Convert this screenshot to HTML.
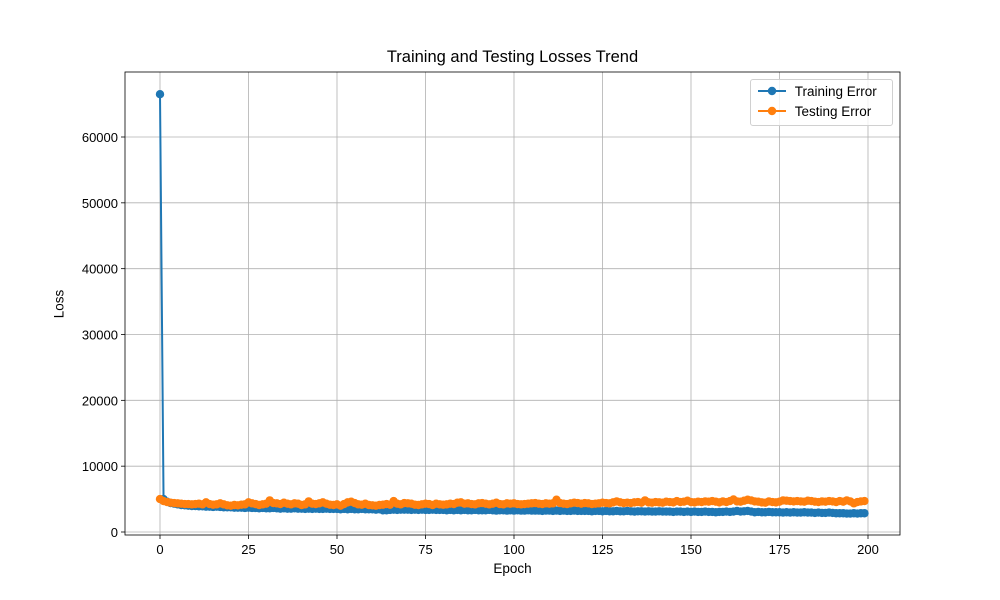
<!DOCTYPE html>
<html><head><meta charset="utf-8"><style>
body{margin:0;background:#fff;}
svg{display:block;font-family:"Liberation Sans","DejaVu Sans",sans-serif;}
</style></head><body>
<svg id="chart" width="1000" height="600"></svg>
<script>
const epochs = Array.from({length:200},(_,i)=>i);
const trainingError = [66500,5000,4600,4400,4300,4200,4100,4050,4000,3950,
3950,3900,3900,3850,3850,3800,3850,3800,3750,3750,
3750,3700,3700,3700,3650,3700,3650,3650,3600,3650,
3600,3600,3650,3600,3550,3600,3550,3550,3600,3550,
3550,3500,3550,3500,3550,3500,3500,3550,3500,3500,
3500,3450,3500,3450,3500,3450,3450,3500,3450,3450,
3450,3400,3450,3300,3300,3350,3400,3350,3400,3400,
3400,3350,3400,3350,3400,3350,3350,3400,3350,3350,
3350,3300,3350,3300,3350,3300,3350,3300,3300,3350,
3300,3300,3300,3350,3300,3250,3300,3300,3250,3300,
3250,3300,3250,3250,3300,3250,3250,3250,3200,3250,
3250,3200,3250,3200,3250,3200,3200,3250,3200,3200,
3200,3200,3150,3200,3200,3150,3200,3150,3150,3200,
3150,3150,3200,3150,3100,3150,3150,3100,3150,3100,
3100,3150,3100,3100,3100,3050,3100,3100,3050,3100,
3050,3100,3050,3050,3100,3050,3050,3000,3050,3050,
3100,3050,3100,3200,3100,3150,3200,3100,3000,3050,
3000,3000,3050,3000,3000,3000,2950,3000,2950,3000,
2950,2950,3000,2950,2950,2900,2950,2900,2900,2950,
2900,2850,2850,2850,2800,2800,2850,2800,2850,2850];
const testingError = [5000,4700,4550,4450,4400,4350,4300,4250,4250,4200,
4250,4300,4200,4500,4250,4150,4200,4350,4200,4050,
4000,4100,4050,4150,4200,4500,4350,4250,4100,4200,
4300,4800,4400,4350,4250,4450,4300,4200,4350,4300,
4100,4200,4650,4300,4250,4350,4500,4300,4150,4100,
4200,4000,4250,4500,4600,4400,4200,4150,4300,4100,
4050,4000,4100,4150,4250,4150,4700,4300,4200,4400,
4350,4300,4150,4100,4200,4300,4250,4100,4300,4200,
4150,4200,4300,4250,4450,4500,4300,4350,4250,4200,
4350,4400,4300,4200,4300,4450,4250,4200,4350,4300,
4350,4250,4200,4250,4300,4350,4400,4300,4250,4350,
4300,4350,4900,4400,4300,4250,4350,4450,4400,4300,
4400,4350,4250,4300,4350,4450,4400,4350,4500,4650,
4500,4400,4450,4400,4500,4550,4450,4800,4500,4450,
4550,4500,4450,4600,4550,4500,4700,4550,4600,4750,
4550,4500,4600,4550,4650,4600,4700,4600,4500,4650,
4550,4700,4950,4650,4600,4750,4900,4800,4650,4600,
4500,4450,4650,4550,4500,4600,4800,4750,4700,4650,
4700,4650,4600,4750,4700,4600,4550,4650,4600,4700,
4650,4550,4700,4600,4800,4650,4350,4550,4650,4700];
const xTicks = [0,25,50,75,100,125,150,175,200];
const yTicks = [0,10000,20000,30000,40000,50000,60000];

const L=125,R=900,T=72,B=535;
const xs=v=>160+(v-0)*(868-160)/200;
const ys=v=>532-v*(532-137)/60000;
const svg=document.getElementById('chart');
const NS='http://www.w3.org/2000/svg';
function mk(tag,attrs,parent){const e=document.createElementNS(NS,tag);for(const k in attrs)e.setAttribute(k,attrs[k]);(parent||svg).appendChild(e);return e;}

const grid=mk('g',{});


xTicks.forEach(t=>{mk('line',{x1:xs(t),x2:xs(t),y1:T,y2:B,stroke:'#b0b0b0','stroke-width':0.8},grid);});
yTicks.forEach(t=>{mk('line',{x1:L,x2:R,y1:ys(t),y2:ys(t),stroke:'#b0b0b0','stroke-width':0.8},grid);});

function series(data,color,name){
  const g=mk('g',{});
  
  
  mk('polyline',{points:data.map((v,i)=>xs(epochs[i])+','+ys(v)).join(' '),fill:'none',stroke:color,'stroke-width':2},g);
  data.forEach((v,i)=>{const c=mk('circle',{cx:xs(epochs[i]),cy:ys(v),r:4.2,fill:color},g);
    
    });
}
series(trainingError,'#1f77b4','training-error-series');
series(testingError,'#ff7f0e','testing-error-series');

const ax=mk('rect',{x:L,y:T,width:R-L,height:B-T,fill:'none',stroke:'#000','stroke-width':0.8});


xTicks.forEach(t=>{mk('line',{x1:xs(t),x2:xs(t),y1:B,y2:B+4,stroke:'#000','stroke-width':0.8});
  const tx=mk('text',{x:xs(t),y:B+19,'text-anchor':'middle','font-size':13});tx.textContent=t;
  });
yTicks.forEach(t=>{mk('line',{x1:L-4,x2:L,y1:ys(t),y2:ys(t),stroke:'#000','stroke-width':0.8});
  const tx=mk('text',{x:L-7,y:ys(t)+5,'text-anchor':'end','font-size':13});tx.textContent=t;
  });
</script>
<div style="position:absolute;left:0;top:0;width:1000px;height:600px;pointer-events:none;font-family:'Liberation Sans','DejaVu Sans',sans-serif;">
  <div style="position:absolute;left:125px;width:775px;top:48px;text-align:center;font-size:16.5px;">Training and Testing Losses Trend</div>
  <div style="position:absolute;left:125px;width:775px;top:561px;text-align:center;font-size:13.5px;">Epoch</div>
  <div style="position:absolute;left:59px;top:304px;font-size:13.5px;transform:translate(-50%,-50%) rotate(-90deg);transform-origin:center;">Loss</div>
  <div style="position:absolute;left:750px;top:79px;width:141px;height:45px;border:1px solid #d0d0d0;border-radius:3px;background:rgba(255,255,255,0.8);font-size:13.5px;">
    <div style="position:absolute;left:6px;top:3px;white-space:nowrap;">
      <svg width="30" height="16" style="vertical-align:middle;display:inline-block"><line x1="1" y1="8" x2="29" y2="8" stroke="#1f77b4" stroke-width="2"/><circle cx="15" cy="8" r="4.2" fill="#1f77b4"/></svg>
      <span style="margin-left:4px;vertical-align:middle">Training Error</span></div>
    <div style="position:absolute;left:6px;top:23px;white-space:nowrap;">
      <svg width="30" height="16" style="vertical-align:middle;display:inline-block"><line x1="1" y1="8" x2="29" y2="8" stroke="#ff7f0e" stroke-width="2"/><circle cx="15" cy="8" r="4.2" fill="#ff7f0e"/></svg>
      <span style="margin-left:4px;vertical-align:middle">Testing Error</span></div>
  </div>
</div>
</body></html>
